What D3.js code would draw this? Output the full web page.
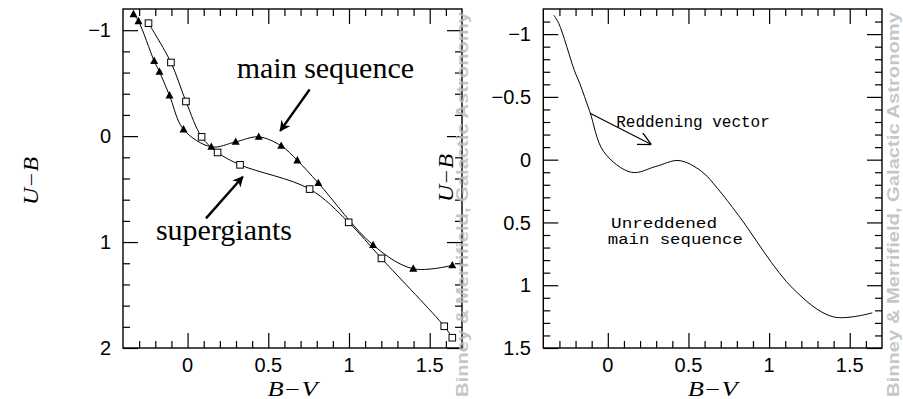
<!DOCTYPE html>
<html>
<head>
<meta charset="utf-8">
<script src="https://cdn.jsdelivr.net/npm/d3@7"></script>
<style>
  body { margin: 0; background: #fff; }
  svg { display: block; }
</style>
</head>
<body>
<div id="chart"></div>
<script>
// main sequence (triangles): B-V, U-B
const msBV = [-0.335, -0.304, -0.207, -0.174, -0.112, -0.025, 0.147, 0.298, 0.441, 0.580, 0.680, 0.810, 1.149, 1.398, 1.640];
const msUB = [-1.151, -1.085, -0.710, -0.607, -0.384, -0.063, 0.101, 0.054, 0.007, 0.092, 0.229, 0.443, 1.028, 1.252, 1.220];
// supergiants (squares)
const sgBV = [-0.242, -0.103, -0.010, 0.087, 0.186, 0.325, 0.756, 0.998, 1.201, 1.590, 1.640];
const sgUB = [-1.066, -0.695, -0.327, 0.007, 0.154, 0.271, 0.500, 0.814, 1.154, 1.795, 1.903];

const xTicks = [0, 0.5, 1, 1.5];
const xTickLabels = ["0", "0.5", "1", "1.5"];
const leftYTicks = [-1, 0, 1, 2];
const leftYTickLabels = ["\u22121", "0", "1", "2"];
const rightYTicks = [-1, -0.5, 0, 0.5, 1, 1.5];
const rightYTickLabels = ["\u22121", "\u22120.5", "0", "0.5", "1", "1.5"];

const W = 903, H = 399;
const svg = d3.select("#chart").append("svg")
    .attr("width", W)
    .attr("height", H);

svg.append("rect").attr("width", W).attr("height", H).attr("fill", "#fff");

const defs = svg.append("defs");
defs.append("marker")
    .attr("id", "solidhead")
    .attr("viewBox", "0 0 10 10")
    .attr("refX", 9).attr("refY", 5)
    .attr("markerWidth", 4.5).attr("markerHeight", 4.5)
    .attr("markerUnits", "strokeWidth")
    .attr("orient", "auto")
  .append("path")
    .attr("d", "M0,0 L10,5 L0,10 L3,5 Z")
    .attr("fill", "#000");
defs.append("marker")
    .attr("id", "openhead")
    .attr("viewBox", "0 0 10 10")
    .attr("refX", 10).attr("refY", 5)
    .attr("markerWidth", 13).attr("markerHeight", 13)
    .attr("markerUnits", "userSpaceOnUse")
    .attr("orient", "auto")
  .append("path")
    .attr("d", "M0,0 L10,5 L0,10")
    .attr("fill", "none")
    .attr("stroke", "#000")
    .attr("stroke-width", 1);

const tickFont = "'Liberation Sans', Arial, sans-serif";
const serif = "'Liberation Serif', 'Times New Roman', serif";
const mono = "'Liberation Mono', 'DejaVu Sans Mono', monospace";

function minorRange(lo, hi, step, majors) {
  const out = [];
  for (let i = Math.round(lo / step) + 1; i < Math.round(hi / step); i++) {
    const v = +(i * step).toFixed(3);
    if (!majors.some(m => Math.abs(m - v) < 1e-6)) out.push(v);
  }
  return out;
}

function frame(g, x, y, yTicks, yLabels, yMinorStep, labelX) {
  const [x0, x1] = x.range();
  const [y1, y0] = y.range();
  const xd = x.domain(), yd = y.domain();
  const xMinor = minorRange(xd[0], xd[1], 0.1, xTicks);
  const yMinor = minorRange(yd[0], yd[1], yMinorStep, yTicks);

  const axes = [
    { ax: d3.axisBottom(x), tr: `translate(0,${y0})`, maj: xTicks, min: xMinor },
    { ax: d3.axisTop(x), tr: `translate(0,${y1})`, maj: xTicks, min: xMinor },
    { ax: d3.axisLeft(y), tr: `translate(${x0},0)`, maj: yTicks, min: yMinor },
    { ax: d3.axisRight(y), tr: `translate(${x1},0)`, maj: yTicks, min: yMinor }
  ];
  axes.forEach(a => {
    g.append("g").attr("transform", a.tr)
      .call(a.ax.tickValues(a.maj).tickSize(-15).tickSizeOuter(0).tickFormat(""))
      .call(s => s.select(".domain").remove())
      .selectAll("line").attr("stroke", "#000").attr("stroke-width", 1.2);
    g.append("g").attr("transform", a.tr)
      .call(a.ax.tickValues(a.min).tickSize(-7).tickSizeOuter(0).tickFormat(""))
      .call(s => s.select(".domain").remove())
      .selectAll("line").attr("stroke", "#000").attr("stroke-width", 1.2);
  });

  g.append("rect")
    .attr("x", x0).attr("y", y1)
    .attr("width", x1 - x0).attr("height", y0 - y1)
    .attr("fill", "none").attr("stroke", "#000").attr("stroke-width", 1.4);

  // tick labels
  g.selectAll(".xl").data(xTicks).enter().append("text")
    .attr("x", d => x(d)).attr("y", 372)
    .attr("text-anchor", "middle")
    .style("font", `20px ${tickFont}`)
    .text((d, i) => xTickLabels[i]);
  g.selectAll(".yl").data(yTicks).enter().append("text")
    .attr("x", labelX).attr("y", d => y(d)).attr("dy", "0.36em")
    .attr("text-anchor", "end")
    .style("font", `20px ${tickFont}`)
    .text((d, i) => yLabels[i]);

  // axis title
  g.append("text")
    .attr("x", (x0 + x1) / 2 - 25).attr("y", 395.5)
    .attr("textLength", 50)
    .attr("lengthAdjust", "spacingAndGlyphs")
    .style("font", `italic 20px ${serif}`)
    .text("B\u2212V");
}

const line = (xs, ys) => d3.line()
    .x(d => xs(d[0])).y(d => ys(d[1]))
    .curve(d3.curveCatmullRom.alpha(0.5));

// ---------- left panel ----------
const xL = d3.scaleLinear().domain([-0.4, 1.7]).range([123, 462]);
const yL = d3.scaleLinear().domain([-1.2, 2]).range([9, 348]);
const gL = svg.append("g");
frame(gL, xL, yL, leftYTicks, leftYTickLabels, 0.2, 111);

gL.append("text")
  .attr("transform", "translate(38,205) rotate(-90)")
  .attr("textLength", 48)
  .attr("lengthAdjust", "spacingAndGlyphs")
  .style("font", `italic 20px ${serif}`)
  .text("U\u2212B");

const ms = msBV.map((d, i) => [d, msUB[i]]);
const sg = sgBV.map((d, i) => [d, sgUB[i]]);

gL.append("path").datum(ms)
  .attr("d", line(xL, yL))
  .attr("fill", "none").attr("stroke", "#000").attr("stroke-width", 1);
gL.append("path").datum(sg)
  .attr("d", line(xL, yL))
  .attr("fill", "none").attr("stroke", "#000").attr("stroke-width", 1);

gL.selectAll(".tri").data(ms).enter().append("path")
  .attr("transform", d => `translate(${xL(d[0])},${yL(d[1])})`)
  .attr("d", "M0,-4.4 L4,3 L-4,3 Z")
  .attr("fill", "#000");
gL.selectAll(".sq").data(sg).enter().append("rect")
  .attr("x", d => xL(d[0]) - 3.3).attr("y", d => yL(d[1]) - 3.3)
  .attr("width", 6.6).attr("height", 6.6)
  .attr("fill", "#fff").attr("stroke", "#000").attr("stroke-width", 1);

gL.append("text")
  .attr("x", xL(0.304)).attr("y", yL(-0.544))
  .style("font", `30px ${serif}`)
  .text("main sequence");
gL.append("text")
  .attr("x", xL(-0.196)).attr("y", yL(0.981))
  .style("font", `30px ${serif}`)
  .text("supergiants");

gL.append("line")
  .attr("x1", xL(0.756)).attr("y1", yL(-0.44))
  .attr("x2", xL(0.574)).attr("y2", yL(-0.05))
  .attr("stroke", "#000").attr("stroke-width", 2.4)
  .attr("marker-end", "url(#solidhead)");
gL.append("line")
  .attr("x1", xL(0.114)).attr("y1", yL(0.776))
  .attr("x2", xL(0.342)).attr("y2", yL(0.384))
  .attr("stroke", "#000").attr("stroke-width", 2.4)
  .attr("marker-end", "url(#solidhead)");

// ---------- right panel ----------
const xR = d3.scaleLinear().domain([-0.4, 1.7]).range([543.3, 882]);
const yR = d3.scaleLinear().domain([-1.2, 1.5]).range([9, 348]);
const gR = svg.append("g");
frame(gR, xR, yR, rightYTicks, rightYTickLabels, 0.1, 531);

gR.append("text")
  .attr("transform", "translate(453,202) rotate(-90)")
  .attr("textLength", 48)
  .attr("lengthAdjust", "spacingAndGlyphs")
  .style("font", `italic 20px ${serif}`)
  .text("U\u2212B");

gR.append("path").datum(ms)
  .attr("d", line(xR, yR))
  .attr("fill", "none").attr("stroke", "#000").attr("stroke-width", 1);

gR.append("line")
  .attr("x1", xR(-0.11)).attr("y1", yR(-0.37))
  .attr("x2", xR(0.27)).attr("y2", yR(-0.12))
  .attr("stroke", "#000").attr("stroke-width", 1.1)
  .attr("marker-end", "url(#openhead)");

gR.append("text")
  .attr("x", xR(0.052)).attr("y", yR(-0.262))
  .style("font", `16px ${mono}`)
  .text("Reddening vector");
gR.append("text")
  .attr("x", xR(0.02)).attr("y", yR(0.545))
  .style("font", `14px ${mono}`)
  .attr("textLength", 106)
  .attr("lengthAdjust", "spacingAndGlyphs")
  .text("Unreddened");
gR.append("text")
  .attr("x", xR(0.0)).attr("y", yR(0.672))
  .style("font", `14px ${mono}`)
  .attr("textLength", 135)
  .attr("lengthAdjust", "spacingAndGlyphs")
  .text("main sequence");

// ---------- watermarks ----------
[468, 899].forEach(bx => {
  svg.append("text")
    .attr("transform", `translate(${bx},397) rotate(-90)`)
    .attr("textLength", 385)
    .attr("lengthAdjust", "spacingAndGlyphs")
    .style("font", "bold 16px 'Liberation Sans', Arial, sans-serif")
    .attr("fill", "#bcbcbc")
    .attr("fill-opacity", 0.85)
    .text("Binney & Merrifield, Galactic Astronomy");
});
</script>
</body>
</html>
